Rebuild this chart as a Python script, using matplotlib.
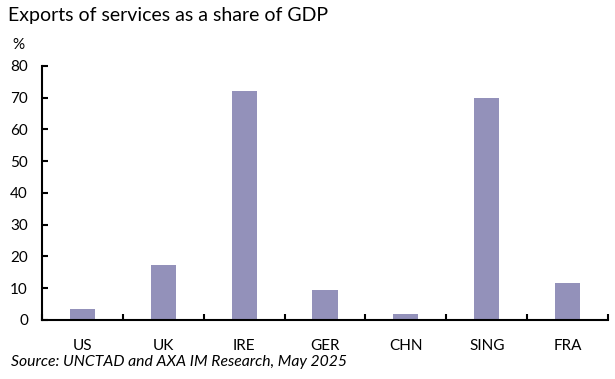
import matplotlib
matplotlib.use("Agg")
import matplotlib.pyplot as plt
import numpy as np

# data
countries = ["US", "UK", "IRE", "GER", "CHN", "SING", "FRA"]
share_gdp = [3.5, 17.3, 72.0, 9.4, 1.9, 70.0, 11.6]
y_ticks = [0, 10, 20, 30, 40, 50, 60, 70, 80]

plt.rcParams['font.family'] = ['Lato', 'DejaVu Sans']

fig = plt.figure(figsize=(6.15, 3.79), dpi=100)
ax = fig.add_axes([0.068, 0.156, 0.921, 0.670])

x = np.arange(len(countries))
ax.bar(x, share_gdp, width=0.31, color="#9391BA", zorder=2)

ax.set_xlim(-0.5, len(countries) - 0.5)
ax.set_ylim(0, 80)
ax.set_yticks(y_ticks)
ax.tick_params(axis='y', direction='in', length=4, width=1.5, labelsize=11, pad=10)

# category labels centred, tick marks on the boundaries
ax.set_xticks(x)
ax.set_xticklabels(countries)
ax.tick_params(axis='x', which='major', length=0, labelsize=11, pad=14)
ax.set_xticks(np.arange(len(countries) + 1) - 0.5, minor=True)
ax.tick_params(axis='x', which='minor', direction='in', length=4, width=1.5)

for side in ["top", "right"]:
    ax.spines[side].set_visible(False)
ax.spines["left"].set_linewidth(1.5)
ax.spines["bottom"].set_linewidth(1.5)

fig.text(0.013, 0.958, "Exports of services as a share of GDP", fontsize=14, va="center")
fig.text(0.02, 0.882, "%", fontsize=11, va="center")
fig.text(0.018, 0.045, "Source: UNCTAD and AXA IM Research, May 2025", fontsize=11.3,
         style="italic", va="center")

fig.savefig("out.png", dpi=100)
